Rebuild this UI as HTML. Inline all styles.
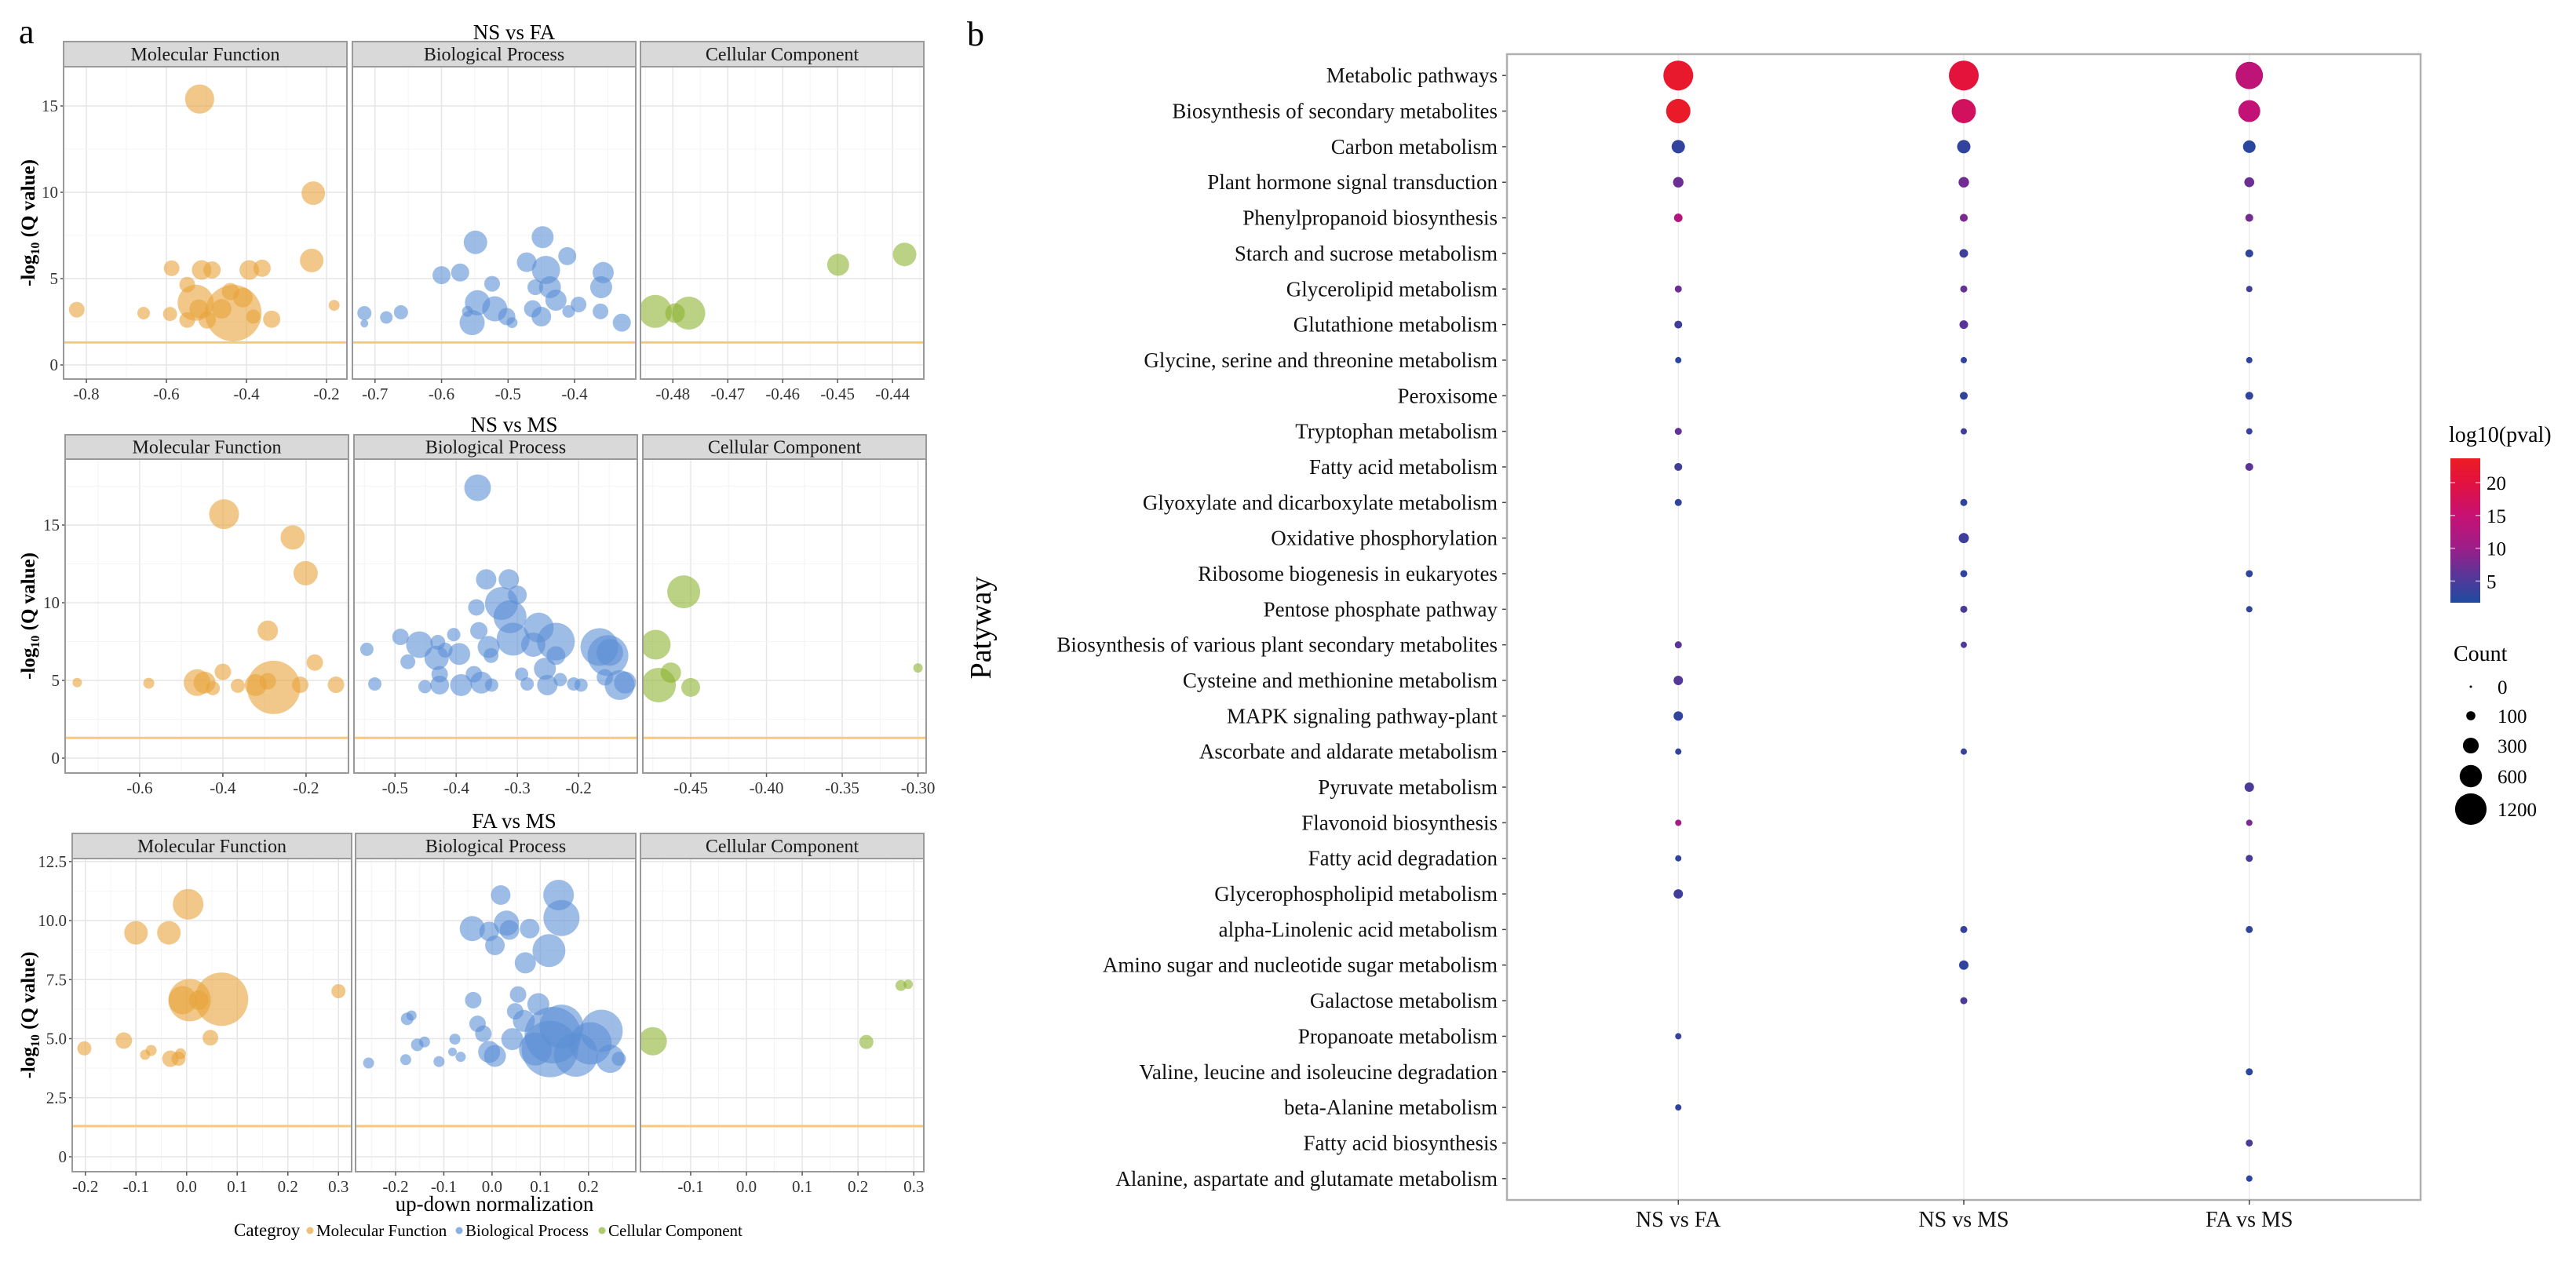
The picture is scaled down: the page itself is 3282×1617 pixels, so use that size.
<!DOCTYPE html>
<html><head><meta charset="utf-8"><title>GO enrichment and KEGG pathway figure</title>
<style>
html,body{margin:0;padding:0;background:#fff;}
svg{display:block;font-family:"Liberation Serif","DejaVu Serif",serif;}
</style></head>
<body>
<svg id="fig" width="3282" height="1617" viewBox="0 0 3282 1617" xmlns="http://www.w3.org/2000/svg">
<defs>
<linearGradient id="cbar" x1="0" y1="1" x2="0" y2="0">
<stop offset="0" stop-color="#1f4ba0"/><stop offset="0.195" stop-color="#5a3597"/><stop offset="0.377" stop-color="#9c1e88"/><stop offset="0.605" stop-color="#c71173"/><stop offset="0.832" stop-color="#e2123f"/><stop offset="1" stop-color="#ec1c24"/>
</linearGradient>
</defs>
</svg>
<script>
// ---------- Panel a data (x = up-down normalization, y = -log10 Q, s = bubble size) ----------
const NSFA_MF_X=[-0.517,-0.233,-0.237,-0.824,-0.657,-0.587,-0.512,-0.486,-0.548,-0.527,-0.519,-0.591,-0.548,-0.433,-0.462,-0.44,-0.409,-0.393,-0.361,-0.337,-0.383,-0.181,-0.498];
const NSFA_MF_Y=[15.4,9.95,6.05,3.2,3.0,5.6,5.5,5.5,4.65,3.6,3.25,2.95,2.6,3.0,3.25,4.25,3.9,5.5,5.6,2.65,2.8,3.45,2.6];
const NSFA_MF_S=[18.6,15,15,10,8,10,12.5,11,10,23,12,9,10,36,12.5,11,12.5,12.5,11,11,9,7,11];
const NSFA_BP_X=[-0.716,-0.716,-0.683,-0.661,-0.6,-0.572,-0.549,-0.554,-0.546,-0.524,-0.52,-0.502,-0.494,-0.561,-0.472,-0.448,-0.443,-0.437,-0.411,-0.45,-0.459,-0.428,-0.394,-0.409,-0.357,-0.36,-0.361,-0.329,-0.463];
const NSFA_BP_Y=[3.0,2.4,2.75,3.05,5.2,5.35,7.1,2.45,3.6,4.7,3.25,2.8,2.45,3.1,5.95,7.4,5.5,4.5,6.3,2.8,4.5,3.75,3.5,3.1,5.35,4.5,3.1,2.45,3.25];
const NSFA_BP_S=[9,5,8,9,11.5,11.5,15,16,16,10,16,11,7,7,12.5,14,18,14,11.5,12.5,10,13.5,10,8,13.5,14,10,11.5,11];
const NSFA_CC_X=[-0.4832,-0.4796,-0.4771,-0.4499,-0.4378];
const NSFA_CC_Y=[3.1,3.0,3.0,5.8,6.4];
const NSFA_CC_S=[21,12.5,21,14,15];

const NSMS_MF_X=[-0.75,-0.578,-0.397,-0.232,-0.201,-0.292,-0.179,-0.4,-0.462,-0.444,-0.424,-0.364,-0.321,-0.292,-0.278,-0.214,-0.128];
const NSMS_MF_Y=[4.86,4.82,15.7,14.2,11.9,8.2,6.15,5.55,4.86,4.86,4.5,4.65,4.7,4.95,4.55,4.72,4.72];
const NSMS_MF_S=[6,7,19,15.5,15.5,13,10.5,10.5,17,14,9,9,14,10.5,34,10.5,10.5];
const NSMS_BP_X=[-0.365,-0.546,-0.533,-0.491,-0.46,-0.479,-0.432,-0.43,-0.404,-0.418,-0.395,-0.427,-0.451,-0.427,-0.392,-0.371,-0.359,-0.342,-0.367,-0.351,-0.314,-0.363,-0.326,-0.312,-0.3,-0.347,-0.343,-0.307,-0.293,-0.284,-0.265,-0.274,-0.237,-0.255,-0.251,-0.237,-0.23,-0.208,-0.196,-0.166,-0.152,-0.149,-0.133,-0.124,-0.157];
const NSMS_BP_Y=[17.4,7.0,4.77,7.8,7.3,6.2,6.45,7.45,7.95,6.95,6.7,5.4,4.6,4.7,4.7,5.4,4.86,4.7,9.7,11.5,11.5,8.2,9.95,9.1,10.5,7.15,6.6,7.65,5.4,4.77,8.4,7.3,7.5,5.75,4.7,6.6,5.05,4.77,4.7,7.15,6.6,6.8,4.7,4.86,5.2];
const NSMS_BP_S=[17,8.5,8.5,10.5,17,9.5,15.5,9.5,8.5,9.5,14,10.5,8.5,12,14,10.5,14,8.5,10.5,13,13,11,21,21,12,14,9.5,21,8.5,8.5,19,15.5,24,14,13,12,8.5,8.5,8.5,24,26,17,19,14,10.5];
const NSMS_CC_X=[-0.4546,-0.4731,-0.4631,-0.4712,-0.45,-0.30];
const NSMS_CC_Y=[10.7,7.3,5.5,4.7,4.55,5.8];
const NSMS_CC_S=[21,19,13,22,12,6];

const FAMS_MF_X=[-0.202,-0.124,-0.1,-0.035,0.003,-0.008,0.006,0.024,0.069,0.3,0.047,-0.082,-0.07,-0.032,-0.016,-0.012];
const FAMS_MF_Y=[4.59,4.92,9.48,9.48,10.69,6.63,6.63,6.63,6.67,7.01,5.04,4.32,4.5,4.15,4.15,4.36];
const FAMS_MF_S=[9,10.5,15,15,19.5,18,27,12.5,34,9,10,6.5,7,10.5,9,7];
const FAMS_BP_X=[-0.256,-0.179,-0.176,-0.167,-0.155,-0.14,-0.11,-0.082,-0.077,-0.065,-0.039,-0.03,-0.018,-0.006,0.006,0.018,-0.041,-0.006,0.006,0.03,0.036,0.078,0.069,0.118,0.138,0.144,0.054,0.048,0.066,0.042,0.096,0.126,0.12,0.144,0.174,0.204,0.227,0.245,0.263,0.09];
const FAMS_BP_Y=[3.97,4.11,5.84,5.98,4.74,4.86,4.03,4.44,4.98,4.23,6.63,5.63,5.21,4.44,4.27,11.08,9.66,9.54,8.95,9.89,9.6,9.66,8.21,8.73,11.08,10.11,6.87,6.16,5.75,4.98,6.46,5.15,4.56,5.51,4.32,4.8,5.33,4.15,4.15,4.56];
const FAMS_BP_S=[7,7,8,6.5,8,7,7,5.5,7,6.5,10.5,10.5,10.5,14,14,12.5,16,12.5,12.5,16,12.5,12.5,13.5,21,19.5,23,10.5,10.5,14,14,14,36,36,28,28,27,27,18,9,21];
const FAMS_CC_X=[-0.168,0.215,0.277,0.29];
const FAMS_CC_Y=[4.89,4.86,7.25,7.3];
const FAMS_CC_S=[18,9,7,6];

const Y_TICKS_NSFA=[0,5,10,15];
const Y_TICKS_NSMS=[0,5,10,15];
const Y_TICKS_FAMS=[0,2.5,5,7.5,10,12.5];
const Y_LABELS_FAMS=["0","2.5","5.0","7.5","10.0","12.5"];
const X_TICKS_NSFA=[[-0.8,-0.6,-0.4,-0.2],[-0.7,-0.6,-0.5,-0.4],[-0.48,-0.47,-0.46,-0.45,-0.44]];
const X_TICKS_NSMS=[[-0.6,-0.4,-0.2],[-0.5,-0.4,-0.3,-0.2],[-0.45,-0.40,-0.35,-0.30]];
const X_TICKS_FAMS=[[-0.2,-0.1,0,0.1,0.2,0.3],[-0.2,-0.1,0,0.1,0.2],[-0.1,0,0.1,0.2,0.3]];
const THRESHOLD=1.3;

// ---------- Panel b data ----------
const PATHWAYS=["Metabolic pathways","Biosynthesis of secondary metabolites","Carbon metabolism","Plant hormone signal transduction","Phenylpropanoid biosynthesis","Starch and sucrose metabolism","Glycerolipid metabolism","Glutathione metabolism","Glycine, serine and threonine metabolism","Peroxisome","Tryptophan metabolism","Fatty acid metabolism","Glyoxylate and dicarboxylate metabolism","Oxidative phosphorylation","Ribosome biogenesis in eukaryotes","Pentose phosphate pathway","Biosynthesis of various plant secondary metabolites","Cysteine and methionine metabolism","MAPK signaling pathway-plant","Ascorbate and aldarate metabolism","Pyruvate metabolism","Flavonoid biosynthesis","Fatty acid degradation","Glycerophospholipid metabolism","alpha-Linolenic acid metabolism","Amino sugar and nucleotide sugar metabolism","Galactose metabolism","Propanoate metabolism","Valine, leucine and isoleucine degradation","beta-Alanine metabolism","Fatty acid biosynthesis","Alanine, aspartate and glutamate metabolism"];
const COMPARISONS=["NS vs FA","NS vs MS","FA vs MS"];
const N=null;
const COUNT_NSFA=[1073,714,215,133,87,N,60,75,48,N,60,75,60,N,N,N,60,107,107,48,N,48,48,107,N,N,N,48,N,48,N,N];
const PVAL_NSFA=[22.5,23,3,7,13,N,7,4,2.5,N,6.5,4,3,N,N,N,6,5.5,3,3,N,11,3,4,N,N,N,3.5,N,3,N,N];
const COUNT_NSMS=[1073,705,215,133,75,90,60,90,48,75,48,N,60,125,60,60,48,N,N,48,N,N,N,N,60,107,60,N,N,N,N,N];
const PVAL_NSMS=[20.5,17,3,7.5,8,4,6.5,6,3,3,4,N,3,4,3,5,5.5,N,N,3.5,N,N,N,N,3.5,3,5,N,N,N,N,N];
const COUNT_FAMS=[900,580,190,118,75,75,48,N,48,75,48,75,N,N,60,48,N,N,N,N,107,48,60,N,60,N,N,N,60,N,60,48];
const PVAL_FAMS=[14,14.5,2.5,7,7.5,3,4,N,3,3,3.5,6,N,N,3,3,N,N,N,N,5,8,5,N,3,N,N,N,2.5,N,5,2.5];
const CBAR_TICKS=[5,10,15,20];
const SIZE_LEGEND=[0,100,300,600,1200];

// ---------- helpers ----------
const NS="http://www.w3.org/2000/svg";
const svg=document.getElementById('fig');
function mk(tag,attrs,parent){const e=document.createElementNS(NS,tag);for(const k in attrs)e.setAttribute(k,attrs[k]);(parent||svg).appendChild(e);return e;}
function lin(d0,d1,r0,r1){return v=>r0+(v-d0)*(r1-r0)/(d1-d0);}

// ---------- Panel a ----------
const CATS=["Molecular Function","Biological Process","Cellular Component"];
const CAT_COLORS=["#e8a43a","#5b8fd6","#8db332"];
const CAT_KEYS=["mf","bp","cc"];
const ROWS=[
 {title:"NS vs FA",titleY:41,stripTop:53,top:85,bot:483,y0:465,ypu:22,yt:Y_TICKS_NSFA,yl:null,
  px:[[81,442],[449,810],[816,1177]],dom:[[-0.857,-0.149],[-0.734,-0.308],[-0.4859,-0.4343]],xt:X_TICKS_NSFA,dec:[1,1,2],
  data:[[NSFA_MF_X,NSFA_MF_Y,NSFA_MF_S],[NSFA_BP_X,NSFA_BP_Y,NSFA_BP_S],[NSFA_CC_X,NSFA_CC_Y,NSFA_CC_S]],key:"ns-vs-fa"},
 {title:"NS vs MS",titleY:541,stripTop:554,top:585,bot:985,y0:966,ypu:19.8,yt:Y_TICKS_NSMS,yl:null,
  px:[[83,444],[451,812],[819,1180]],dom:[[-0.779,-0.098],[-0.567,-0.104],[-0.4816,-0.2946]],xt:X_TICKS_NSMS,dec:[1,1,2],
  data:[[NSMS_MF_X,NSMS_MF_Y,NSMS_MF_S],[NSMS_BP_X,NSMS_BP_Y,NSMS_BP_S],[NSMS_CC_X,NSMS_CC_Y,NSMS_CC_S]],key:"ns-vs-ms"},
 {title:"FA vs MS",titleY:1046,stripTop:1062,top:1094,bot:1493,y0:1474,ypu:30.1,yt:Y_TICKS_FAMS,yl:Y_LABELS_FAMS,
  px:[[92,448],[453,810],[816,1177]],dom:[[-0.226,0.326],[-0.283,0.298],[-0.19,0.318]],xt:X_TICKS_FAMS,dec:[1,1,1],
  data:[[FAMS_MF_X,FAMS_MF_Y,FAMS_MF_S],[FAMS_BP_X,FAMS_BP_Y,FAMS_BP_S],[FAMS_CC_X,FAMS_CC_Y,FAMS_CC_S]],key:"fa-vs-ms"}
];

const lblA=mk('text',{x:24,y:55,'font-size':44},svg);lblA.textContent='a';



ROWS.forEach((R,ri)=>{
  const g=mk('g',{},svg);
  
  
  const t=mk('text',{x:655,y:R.titleY+9,'font-size':27,'text-anchor':'middle'},g);t.textContent=R.title;
  
  
  const yS=v=>R.y0-v*R.ypu;
  R.yt.forEach((v,i)=>{
    const tl=mk('text',{x:R.px[0][0]-7,y:yS(v)+7,'font-size':21,'text-anchor':'end',fill:'#333'},g);
    tl.textContent=R.yl?R.yl[i]:String(v);
    
    
    mk('line',{x1:R.px[0][0]-4,x2:R.px[0][0],y1:yS(v),y2:yS(v),stroke:'#555','stroke-width':1.5},g);
  });
  const yc=(R.top+R.bot)/2;
  const yt=mk('text',{x:0,y:0,'font-size':25,'font-weight':'bold','text-anchor':'middle',transform:`translate(44,${yc}) rotate(-90)`},g);
  yt.innerHTML='-log<tspan font-size="16" dy="6">10</tspan><tspan dy="-6"> (Q value)</tspan>';
  
  
  for(let c=0;c<3;c++){
    const [x0,x1]=R.px[c];const xS=lin(R.dom[c][0],R.dom[c][1],x0,x1);
    const fg=mk('g',{},g);
    
    
    const clipId='clip'+ri+c;
    const cp=mk('clipPath',{id:clipId},fg);mk('rect',{x:x0,y:R.top,width:x1-x0,height:R.bot-R.top},cp);
    mk('rect',{x:x0,y:R.top,width:x1-x0,height:R.bot-R.top,fill:'#fff'},fg);
    const grid=mk('g',{'clip-path':`url(#${clipId})`},fg);
    const xt=R.xt[c];const step=xt[1]-xt[0];
    for(let k=-1;k<=xt.length;k++){const v=xt[0]+(k+0.5)*step;mk('line',{x1:xS(v),x2:xS(v),y1:R.top,y2:R.bot,stroke:'#f4f4f4','stroke-width':1},grid);}
    xt.forEach(v=>mk('line',{x1:xS(v),x2:xS(v),y1:R.top,y2:R.bot,stroke:'#e6e6e6','stroke-width':1.5},grid));
    const ys=R.yt[1]-R.yt[0];
    for(let k=-1;k<=R.yt.length;k++){const v=R.yt[0]+(k+0.5)*ys;mk('line',{x1:x0,x2:x1,y1:yS(v),y2:yS(v),stroke:'#f4f4f4','stroke-width':1},grid);}
    R.yt.forEach(v=>mk('line',{x1:x0,x2:x1,y1:yS(v),y2:yS(v),stroke:'#e6e6e6','stroke-width':1.5},grid));
    const th=mk('line',{x1:x0,x2:x1,y1:yS(THRESHOLD),y2:yS(THRESHOLD),stroke:'#f8c97c','stroke-width':3},grid);
    
    
    const [DX,DY,DS]=R.data[c];
    DX.forEach((xv,i)=>{
      const b=mk('circle',{cx:xS(xv),cy:yS(DY[i]),r:DS[i],fill:CAT_COLORS[c],'fill-opacity':0.6},grid);
      
      
    });
    mk('rect',{x:x0,y:R.top,width:x1-x0,height:R.bot-R.top,fill:'none',stroke:'#9a9a9a','stroke-width':2},fg);
    const st=mk('rect',{x:x0,y:R.stripTop,width:x1-x0,height:R.top-R.stripTop,fill:'#d9d9d9',stroke:'#9a9a9a','stroke-width':2},fg);
    
    
    const stt=mk('text',{x:(x0+x1)/2,y:(R.stripTop+R.top)/2+8,'font-size':24,'text-anchor':'middle',fill:'#1a1a1a'},fg);
    stt.textContent=CATS[c];
    
    
    xt.forEach(v=>{
      mk('line',{x1:xS(v),x2:xS(v),y1:R.bot,y2:R.bot+5,stroke:'#555','stroke-width':1.5},fg);
      const xl=mk('text',{x:xS(v),y:R.bot+26,'font-size':21,'text-anchor':'middle',fill:'#333'},fg);
      xl.textContent=(Math.abs(v)<1e-9?0:v).toFixed(R.dec[c]);
      
      
    });
  }
});
const xat=mk('text',{x:630,y:1543,'font-size':27,'text-anchor':'middle'},svg);xat.textContent='up-down normalization';


const lg=mk('g',{},svg);


const lgt=mk('text',{x:298,y:1575,'font-size':23},lg);lgt.textContent='Categroy';
const LEG_X=[400,590,772];
CATS.forEach((c,i)=>{
  const d=mk('circle',{cx:LEG_X[i]-5,cy:1568,r:4.5,fill:CAT_COLORS[i],'fill-opacity':0.7},lg);
  
  
  const t=mk('text',{x:LEG_X[i]+3,y:1575,'font-size':21},lg);t.textContent=c;
  
  
});

// ---------- Panel b ----------
const lblB=mk('text',{x:1232,y:58,'font-size':44},svg);lblB.textContent='b';


const PB={l:1920,r:3084,t:69,b:1529};
const rowY=i=>PB.t+(i+0.6)*(PB.b-PB.t)/(PATHWAYS.length-1+1.2);
const colX=j=>PB.l+(j+0.6)*(PB.r-PB.l)/(COMPARISONS.length-1+1.2);
const sizeR=c=>Math.max(1.5,0.58*Math.sqrt(c));
const CSTOPS=[[1.7,[31,75,160]],[6,[90,53,151]],[10,[156,30,136]],[15,[199,17,115]],[20,[226,18,63]],[23.7,[236,28,36]]];
function pcol(v){
  for(let i=0;i<CSTOPS.length-1;i++){const [a,ca]=CSTOPS[i],[b,cb]=CSTOPS[i+1];
    if(v<=b||i===CSTOPS.length-2){const t=Math.max(0,Math.min(1,(v-a)/(b-a)));return 'rgb('+ca.map((x,k)=>Math.round(x+(cb[k]-x)*t)).join(',')+')';}}
}
const bg=mk('g',{},svg);


mk('rect',{x:PB.l,y:PB.t,width:PB.r-PB.l,height:PB.b-PB.t,fill:'#fff'},bg);
COMPARISONS.forEach((c,j)=>{mk('line',{x1:colX(j),x2:colX(j),y1:PB.t,y2:PB.b,stroke:'#ececec','stroke-width':1.5},bg);});
PATHWAYS.forEach((p,i)=>{
  const t=mk('text',{x:PB.l-12,y:rowY(i)+9,'font-size':27,'text-anchor':'end',fill:'#111'},bg);t.textContent=p;
  
  
  mk('line',{x1:PB.l-6,x2:PB.l,y1:rowY(i),y2:rowY(i),stroke:'#444','stroke-width':1.5},bg);
});
const COUNTS=[COUNT_NSFA,COUNT_NSMS,COUNT_FAMS];const PVALS=[PVAL_NSFA,PVAL_NSMS,PVAL_FAMS];
COUNTS.forEach((arr,j)=>{arr.forEach((cnt,i)=>{
  if(cnt===null)return;
  const d=mk('circle',{cx:colX(j),cy:rowY(i),r:sizeR(cnt),fill:pcol(PVALS[j][i])},bg);
  
  
});});
mk('rect',{x:PB.l,y:PB.t,width:PB.r-PB.l,height:PB.b-PB.t,fill:'none',stroke:'#b0b0b0','stroke-width':2.5},bg);
COMPARISONS.forEach((c,j)=>{
  mk('line',{x1:colX(j),x2:colX(j),y1:PB.b,y2:PB.b+6,stroke:'#444','stroke-width':1.5},bg);
  const t=mk('text',{x:colX(j),y:PB.b+34,'font-size':28,'text-anchor':'middle',fill:'#111'},bg);t.textContent=c;
  
  
});
const pat=mk('text',{x:0,y:0,'font-size':38,'text-anchor':'middle',transform:'translate(1262,800) rotate(-90)'},svg);pat.textContent='Patyway';


const cl=mk('g',{},svg);


const clt=mk('text',{x:3120,y:563,'font-size':28},cl);clt.textContent='log10(pval)';
const CB={x:3122,w:38,t:584,b:768,lo:1.7,hi:23.7};
const cbY=lin(CB.lo,CB.hi,CB.b,CB.t);
mk('rect',{x:CB.x,y:CB.t,width:CB.w,height:CB.b-CB.t,fill:'url(#cbar)'},cl);
CBAR_TICKS.forEach(v=>{
  mk('line',{x1:CB.x,x2:CB.x+6,y1:cbY(v),y2:cbY(v),stroke:'#fff','stroke-opacity':0.6,'stroke-width':1.5},cl);
  mk('line',{x1:CB.x+CB.w-6,x2:CB.x+CB.w,y1:cbY(v),y2:cbY(v),stroke:'#fff','stroke-opacity':0.6,'stroke-width':1.5},cl);
  const t=mk('text',{x:CB.x+CB.w+8,y:cbY(v)+9,'font-size':25},cl);t.textContent=String(v);
  
  
});
const sl=mk('g',{},svg);


const slt=mk('text',{x:3126,y:842,'font-size':28},sl);slt.textContent='Count';
const SL_Y=[875,912,950,989,1031];
SIZE_LEGEND.forEach((v,i)=>{
  const d=mk('circle',{cx:3148,cy:SL_Y[i],r:sizeR(v),fill:'#000'},sl);
  
  
  const t=mk('text',{x:3182,y:SL_Y[i]+9,'font-size':25},sl);t.textContent=String(v);
  
  
});
</script>
</body></html>
